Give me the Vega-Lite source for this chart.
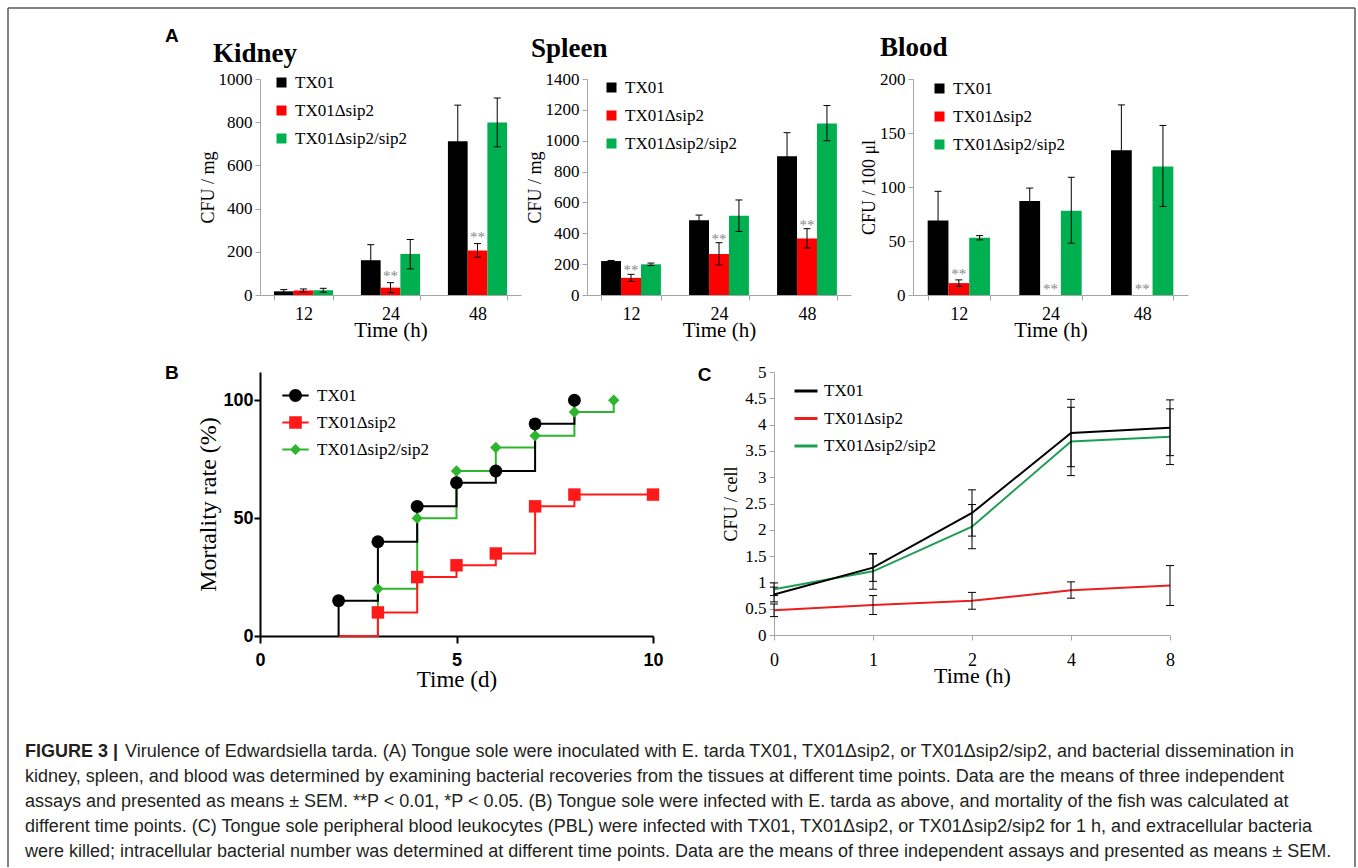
{
  "$schema": "https://vega.github.io/schema/vega-lite/v6.json",
  "padding": {"left": 7, "top": 7, "right": 0, "bottom": 0},
  "background": "white",
  "config": {"view": {"stroke": null}, "axis": {"grid": false, "labelOverlap": false}},
  "spacing": -684,
  "resolve": {"scale": {"x": "independent", "y": "independent", "color": "independent", "shape": "independent", "xOffset": "independent"}, "legend": {"color": "independent", "shape": "independent"}},
  "vconcat": [
    {
      "spacing": 23,
      "resolve": {"scale": {"x": "independent", "y": "independent", "color": "independent", "shape": "independent", "xOffset": "independent"}, "legend": {"color": "independent", "shape": "independent"}},
      "vconcat": [
        {
          "title": {"text": "A", "anchor": "start", "frame": "bounds", "dx": -34, "offset": -27, "baseline": "alphabetic", "font": "Liberation Sans", "fontSize": 19, "fontWeight": "bold", "color": "#000"},
          "spacing": 5,
          "resolve": {"scale": {"x": "independent", "y": "independent", "color": "independent", "xOffset": "independent"}, "legend": {"color": "independent"}},
          "hconcat": [
            {
              "width": 261, "height": 216,
              "title": {"text": "Kidney", "anchor": "start", "frame": "group", "dx": -47, "offset": -19, "baseline": "alphabetic", "font": "Liberation Serif", "fontSize": 27, "fontWeight": "bold", "color": "#000"},
              "data": {"values": [
                {"time": "12", "strain": "TX01", "mean": 17, "lo": 9, "hi": 25, "sig": false},
                {"time": "12", "strain": "TX01Δsip2", "mean": 21, "lo": 14, "hi": 28, "sig": false},
                {"time": "12", "strain": "TX01Δsip2/sip2", "mean": 22, "lo": 13, "hi": 31, "sig": false},
                {"time": "24", "strain": "TX01", "mean": 161, "lo": 89, "hi": 233, "sig": false},
                {"time": "24", "strain": "TX01Δsip2", "mean": 34, "lo": 11, "hi": 57, "sig": true},
                {"time": "24", "strain": "TX01Δsip2/sip2", "mean": 190, "lo": 121, "hi": 257, "sig": false},
                {"time": "48", "strain": "TX01", "mean": 712, "lo": 545, "hi": 879, "sig": false},
                {"time": "48", "strain": "TX01Δsip2", "mean": 206, "lo": 175, "hi": 238, "sig": true},
                {"time": "48", "strain": "TX01Δsip2/sip2", "mean": 799, "lo": 686, "hi": 912, "sig": false}
              ]},
              "encoding": {
                "x": {"field": "time", "type": "nominal", "sort": ["12", "24", "48"], "scale": {"paddingInner": 0.32, "paddingOuter": 0.16},
                  "axis": {"title": "Time (h)", "labelAngle": 0, "tickBand": "extent", "domainColor": "#a6a6a6", "tickColor": "#a6a6a6", "tickSize": 5, "labelFont": "Liberation Serif", "labelFontSize": 18, "labelColor": "#000", "labelPadding": 5, "titleFont": "Liberation Serif", "titleFontSize": 21, "titleFontWeight": "normal", "titleColor": "#000", "titlePadding": -4}},
                "xOffset": {"field": "strain", "type": "nominal", "sort": ["TX01", "TX01Δsip2", "TX01Δsip2/sip2"], "scale": {"paddingInner": 0, "paddingOuter": 0}}
              },
              "layer": [
                {"mark": {"type": "bar"},
                  "encoding": {
                    "y": {"field": "mean", "type": "quantitative", "scale": {"domain": [0, 1000]},
                      "axis": {"title": "CFU / mg", "values": [0, 200, 400, 600, 800, 1000], "tickCount": 30, "labelOverlap": false, "format": "d", "domainColor": "#a6a6a6", "tickColor": "#a6a6a6", "tickSize": 5, "labelFont": "Liberation Serif", "labelFontSize": 17, "labelColor": "#000", "labelPadding": 3, "titleFont": "Liberation Serif", "titleFontSize": 18, "titleFontWeight": "normal", "titleColor": "#000", "titlePadding": 1}},
                    "color": {"field": "strain", "type": "nominal", "scale": {"domain": ["TX01", "TX01Δsip2", "TX01Δsip2/sip2"], "range": ["#000000", "#ff0000", "#00b050"]},
                      "legend": {"title": null, "orient": "none", "legendX": 13, "legendY": -5, "padding": 0, "symbolType": "square", "symbolSize": 100, "symbolStrokeWidth": 0, "labelFont": "Liberation Serif", "labelFontSize": 17, "labelColor": "#000", "labelOffset": 5, "rowPadding": 10, "labelLimit": 300}}
                  }},
                {"transform": [{"filter": "datum.hi > datum.lo"}], "mark": {"type": "rule", "color": "#000", "strokeWidth": 1},
                  "encoding": {"y": {"field": "lo", "type": "quantitative", "scale": {"domain": [0, 1000]}}, "y2": {"field": "hi"}}},
                {"transform": [{"filter": "datum.hi > datum.lo"}], "mark": {"type": "tick", "orient": "horizontal", "size": 7, "thickness": 1, "color": "#000", "opacity": 1},
                  "encoding": {"y": {"field": "lo", "type": "quantitative", "scale": {"domain": [0, 1000]}}}},
                {"transform": [{"filter": "datum.hi > datum.lo"}], "mark": {"type": "tick", "orient": "horizontal", "size": 7, "thickness": 1, "color": "#000", "opacity": 1},
                  "encoding": {"y": {"field": "hi", "type": "quantitative", "scale": {"domain": [0, 1000]}}}},
                {"transform": [{"filter": "datum.sig"}], "mark": {"type": "text", "text": "**", "font": "Liberation Serif", "fontSize": 15, "color": "#888888", "baseline": "alphabetic", "dy": -2},
                  "encoding": {"y": {"field": "hi", "type": "quantitative", "scale": {"domain": [0, 1000]}}}}
              ]
            },
            {
              "spacing": 9,
              "resolve": {"scale": {"x": "independent", "y": "independent", "color": "independent", "xOffset": "independent"}, "legend": {"color": "independent"}},
              "hconcat": [
                {
                  "width": 264, "height": 216,
                  "title": {"text": "Spleen", "anchor": "start", "frame": "group", "dx": -56, "offset": -14, "baseline": "alphabetic", "font": "Liberation Serif", "fontSize": 27, "fontWeight": "bold", "color": "#000"},
                  "data": {"values": [
                    {"time": "12", "strain": "TX01", "mean": 220, "lo": 216, "hi": 224, "sig": false},
                    {"time": "12", "strain": "TX01Δsip2", "mean": 111, "lo": 88, "hi": 134, "sig": true},
                    {"time": "12", "strain": "TX01Δsip2/sip2", "mean": 199, "lo": 191, "hi": 207, "sig": false},
                    {"time": "24", "strain": "TX01", "mean": 484, "lo": 450, "hi": 518, "sig": false},
                    {"time": "24", "strain": "TX01Δsip2", "mean": 266, "lo": 195, "hi": 339, "sig": true},
                    {"time": "24", "strain": "TX01Δsip2/sip2", "mean": 514, "lo": 412, "hi": 616, "sig": false},
                    {"time": "48", "strain": "TX01", "mean": 899, "lo": 747, "hi": 1052, "sig": false},
                    {"time": "48", "strain": "TX01Δsip2", "mean": 367, "lo": 305, "hi": 430, "sig": true},
                    {"time": "48", "strain": "TX01Δsip2/sip2", "mean": 1112, "lo": 1000, "hi": 1228, "sig": false}
                  ]},
                  "encoding": {
                    "x": {"field": "time", "type": "nominal", "sort": ["12", "24", "48"], "scale": {"paddingInner": 0.32, "paddingOuter": 0.16},
                      "axis": {"title": "Time (h)", "labelAngle": 0, "tickBand": "extent", "domainColor": "#a6a6a6", "tickColor": "#a6a6a6", "tickSize": 5, "labelFont": "Liberation Serif", "labelFontSize": 18, "labelColor": "#000", "labelPadding": 5, "titleFont": "Liberation Serif", "titleFontSize": 21, "titleFontWeight": "normal", "titleColor": "#000", "titlePadding": -4}},
                    "xOffset": {"field": "strain", "type": "nominal", "sort": ["TX01", "TX01Δsip2", "TX01Δsip2/sip2"], "scale": {"paddingInner": 0, "paddingOuter": 0}}
                  },
                  "layer": [
                    {"mark": {"type": "bar"},
                      "encoding": {
                        "y": {"field": "mean", "type": "quantitative", "scale": {"domain": [0, 1400]},
                          "axis": {"title": "CFU / mg", "values": [0, 200, 400, 600, 800, 1000, 1200, 1400], "tickCount": 30, "labelOverlap": false, "format": "d", "domainColor": "#a6a6a6", "tickColor": "#a6a6a6", "tickSize": 5, "labelFont": "Liberation Serif", "labelFontSize": 17, "labelColor": "#000", "labelPadding": 3, "titleFont": "Liberation Serif", "titleFontSize": 18, "titleFontWeight": "normal", "titleColor": "#000", "titlePadding": 1}},
                        "color": {"field": "strain", "type": "nominal", "scale": {"domain": ["TX01", "TX01Δsip2", "TX01Δsip2/sip2"], "range": ["#000000", "#ff0000", "#00b050"]},
                          "legend": {"title": null, "orient": "none", "legendX": 16, "legendY": 0, "padding": 0, "symbolType": "square", "symbolSize": 100, "symbolStrokeWidth": 0, "labelFont": "Liberation Serif", "labelFontSize": 17, "labelColor": "#000", "labelOffset": 5, "rowPadding": 10, "labelLimit": 300}}
                      }},
                    {"transform": [{"filter": "datum.hi > datum.lo"}], "mark": {"type": "rule", "color": "#000", "strokeWidth": 1},
                      "encoding": {"y": {"field": "lo", "type": "quantitative", "scale": {"domain": [0, 1400]}}, "y2": {"field": "hi"}}},
                    {"transform": [{"filter": "datum.hi > datum.lo"}], "mark": {"type": "tick", "orient": "horizontal", "size": 7, "thickness": 1, "color": "#000", "opacity": 1},
                      "encoding": {"y": {"field": "lo", "type": "quantitative", "scale": {"domain": [0, 1400]}}}},
                    {"transform": [{"filter": "datum.hi > datum.lo"}], "mark": {"type": "tick", "orient": "horizontal", "size": 7, "thickness": 1, "color": "#000", "opacity": 1},
                      "encoding": {"y": {"field": "hi", "type": "quantitative", "scale": {"domain": [0, 1400]}}}},
                    {"transform": [{"filter": "datum.sig"}], "mark": {"type": "text", "text": "**", "font": "Liberation Serif", "fontSize": 15, "color": "#888888", "baseline": "alphabetic", "dy": 1},
                      "encoding": {"y": {"field": "hi", "type": "quantitative", "scale": {"domain": [0, 1400]}}}}
                  ]
                },
                {
                  "width": 275, "height": 216,
                  "title": {"text": "Blood", "anchor": "start", "frame": "group", "dx": -33, "offset": -13, "baseline": "alphabetic", "font": "Liberation Serif", "fontSize": 27, "fontWeight": "bold", "color": "#000"},
                  "data": {"values": [
                    {"time": "12", "strain": "TX01", "mean": 69, "lo": 42, "hi": 96, "sig": false},
                    {"time": "12", "strain": "TX01Δsip2", "mean": 11, "lo": 8, "hi": 14, "sig": true},
                    {"time": "12", "strain": "TX01Δsip2/sip2", "mean": 53, "lo": 51, "hi": 55, "sig": false},
                    {"time": "24", "strain": "TX01", "mean": 87, "lo": 75, "hi": 99, "sig": false},
                    {"time": "24", "strain": "TX01Δsip2", "mean": 0, "lo": 0, "hi": 0, "sig": true},
                    {"time": "24", "strain": "TX01Δsip2/sip2", "mean": 78, "lo": 48, "hi": 109, "sig": false},
                    {"time": "48", "strain": "TX01", "mean": 134, "lo": 92, "hi": 176, "sig": false},
                    {"time": "48", "strain": "TX01Δsip2", "mean": 0, "lo": 0, "hi": 0, "sig": true},
                    {"time": "48", "strain": "TX01Δsip2/sip2", "mean": 119, "lo": 82, "hi": 157, "sig": false}
                  ]},
                  "encoding": {
                    "x": {"field": "time", "type": "nominal", "sort": ["12", "24", "48"], "scale": {"paddingInner": 0.32, "paddingOuter": 0.16},
                      "axis": {"title": "Time (h)", "labelAngle": 0, "tickBand": "extent", "domainColor": "#a6a6a6", "tickColor": "#a6a6a6", "tickSize": 5, "labelFont": "Liberation Serif", "labelFontSize": 18, "labelColor": "#000", "labelPadding": 5, "titleFont": "Liberation Serif", "titleFontSize": 21, "titleFontWeight": "normal", "titleColor": "#000", "titlePadding": -4}},
                    "xOffset": {"field": "strain", "type": "nominal", "sort": ["TX01", "TX01Δsip2", "TX01Δsip2/sip2"], "scale": {"paddingInner": 0, "paddingOuter": 0}}
                  },
                  "layer": [
                    {"mark": {"type": "bar"},
                      "encoding": {
                        "y": {"field": "mean", "type": "quantitative", "scale": {"domain": [0, 200]},
                          "axis": {"title": "CFU / 100 μl", "values": [0, 50, 100, 150, 200], "tickCount": 30, "labelOverlap": false, "format": "d", "domainColor": "#a6a6a6", "tickColor": "#a6a6a6", "tickSize": 5, "labelFont": "Liberation Serif", "labelFontSize": 17, "labelColor": "#000", "labelPadding": 3, "titleFont": "Liberation Serif", "titleFontSize": 18, "titleFontWeight": "normal", "titleColor": "#000", "titlePadding": 1}},
                        "color": {"field": "strain", "type": "nominal", "scale": {"domain": ["TX01", "TX01Δsip2", "TX01Δsip2/sip2"], "range": ["#000000", "#ff0000", "#00b050"]},
                          "legend": {"title": null, "orient": "none", "legendX": 18, "legendY": 1, "padding": 0, "symbolType": "square", "symbolSize": 100, "symbolStrokeWidth": 0, "labelFont": "Liberation Serif", "labelFontSize": 17, "labelColor": "#000", "labelOffset": 5, "rowPadding": 10, "labelLimit": 300}}
                      }},
                    {"transform": [{"filter": "datum.hi > datum.lo"}], "mark": {"type": "rule", "color": "#000", "strokeWidth": 1},
                      "encoding": {"y": {"field": "lo", "type": "quantitative", "scale": {"domain": [0, 200]}}, "y2": {"field": "hi"}}},
                    {"transform": [{"filter": "datum.hi > datum.lo"}], "mark": {"type": "tick", "orient": "horizontal", "size": 7, "thickness": 1, "color": "#000", "opacity": 1},
                      "encoding": {"y": {"field": "lo", "type": "quantitative", "scale": {"domain": [0, 200]}}}},
                    {"transform": [{"filter": "datum.hi > datum.lo"}], "mark": {"type": "tick", "orient": "horizontal", "size": 7, "thickness": 1, "color": "#000", "opacity": 1},
                      "encoding": {"y": {"field": "hi", "type": "quantitative", "scale": {"domain": [0, 200]}}}},
                    {"transform": [{"filter": "datum.sig"}], "mark": {"type": "text", "text": "**", "font": "Liberation Serif", "fontSize": 15, "color": "#888888", "baseline": "alphabetic", "dy": -1},
                      "encoding": {"y": {"field": "hi", "type": "quantitative", "scale": {"domain": [0, 200]}}}}
                  ]
                }
              ]
            }
          ]
        },
        {
          "spacing": 33,
          "resolve": {"scale": {"x": "independent", "y": "independent", "color": "independent", "shape": "independent"}, "legend": {"color": "independent", "shape": "independent"}},
          "hconcat": [
            {
              "width": 393, "height": 264,
              "title": {"text": "B", "anchor": "start", "frame": "bounds", "dx": -32, "offset": -26, "baseline": "alphabetic", "font": "Liberation Sans", "fontSize": 19, "fontWeight": "bold", "color": "#000"},
              "data": {"values": [
                {"strain": "TX01Δsip2/sip2", "day": 3, "rate": 0},
                {"strain": "TX01Δsip2/sip2", "day": 3, "rate": 20},
                {"strain": "TX01Δsip2/sip2", "day": 4, "rate": 50},
                {"strain": "TX01Δsip2/sip2", "day": 5, "rate": 70},
                {"strain": "TX01Δsip2/sip2", "day": 6, "rate": 80},
                {"strain": "TX01Δsip2/sip2", "day": 7, "rate": 85},
                {"strain": "TX01Δsip2/sip2", "day": 8, "rate": 95},
                {"strain": "TX01Δsip2/sip2", "day": 9, "rate": 100},
                {"strain": "TX01Δsip2", "day": 2, "rate": 0},
                {"strain": "TX01Δsip2", "day": 3, "rate": 10},
                {"strain": "TX01Δsip2", "day": 4, "rate": 25},
                {"strain": "TX01Δsip2", "day": 5, "rate": 30},
                {"strain": "TX01Δsip2", "day": 6, "rate": 35},
                {"strain": "TX01Δsip2", "day": 7, "rate": 55},
                {"strain": "TX01Δsip2", "day": 8, "rate": 60},
                {"strain": "TX01Δsip2", "day": 10, "rate": 60},
                {"strain": "TX01", "day": 2, "rate": 0},
                {"strain": "TX01", "day": 2, "rate": 15},
                {"strain": "TX01", "day": 3, "rate": 40},
                {"strain": "TX01", "day": 4, "rate": 55},
                {"strain": "TX01", "day": 5, "rate": 65},
                {"strain": "TX01", "day": 6, "rate": 70},
                {"strain": "TX01", "day": 7, "rate": 90},
                {"strain": "TX01", "day": 8, "rate": 100}
              ]},
              "encoding": {
                "x": {"field": "day", "type": "quantitative", "scale": {"domain": [0, 10]},
                  "axis": {"title": "Time (d)", "values": [0, 5, 10], "tickCount": 30, "format": "d", "labelFlush": false, "domainColor": "#000", "domainWidth": 2, "tickColor": "#000", "tickWidth": 2, "tickSize": 7, "labelFont": "Liberation Sans", "labelFontWeight": "bold", "labelFontSize": 18, "labelColor": "#000", "labelPadding": 8, "titleFont": "Liberation Serif", "titleFontSize": 23, "titleFontWeight": "normal", "titleColor": "#000", "titlePadding": -1}},
                "y": {"field": "rate", "type": "quantitative", "scale": {"domain": [0, 112]},
                  "axis": {"title": "Mortality rate (%)", "values": [0, 50, 100], "tickCount": 30, "format": "d", "labelFlush": false, "domainColor": "#000", "domainWidth": 2, "tickColor": "#000", "tickWidth": 2, "tickSize": 6, "labelFont": "Liberation Sans", "labelFontWeight": "bold", "labelFontSize": 18, "labelColor": "#000", "labelPadding": 1, "titleFont": "Liberation Serif", "titleFontSize": 24, "titleFontWeight": "normal", "titleColor": "#000", "titlePadding": 2}}
              },
              "layer": [
                {"transform": [{"filter": "datum.strain === 'TX01Δsip2/sip2'"}], "mark": {"type": "line", "interpolate": "step-after", "strokeWidth": 2, "color": "#2db52d"}},
                {"transform": [{"filter": "datum.strain === 'TX01Δsip2'"}], "mark": {"type": "line", "interpolate": "step-after", "strokeWidth": 2, "color": "#ff1a1a"}},
                {"transform": [{"filter": "datum.strain === 'TX01'"}], "mark": {"type": "line", "interpolate": "step-after", "strokeWidth": 2, "color": "#000000"}},
                {"transform": [{"filter": "datum.strain === 'TX01Δsip2/sip2' && datum.rate > 0"}], "mark": {"type": "point", "shape": "diamond", "filled": true, "opacity": 1, "size": 130, "color": "#2db52d"}},
                {"transform": [{"filter": "datum.strain === 'TX01Δsip2' && datum.rate > 0"}], "mark": {"type": "point", "shape": "square", "filled": true, "opacity": 1, "size": 155, "color": "#ff1a1a"}},
                {"transform": [{"filter": "datum.strain === 'TX01' && datum.rate > 0"}], "mark": {"type": "point", "shape": "circle", "filled": true, "opacity": 1, "size": 165, "color": "#000000"}},
                {"transform": [{"filter": "false"}], "mark": {"type": "point", "filled": true, "opacity": 1},
                  "encoding": {
                    "color": {"field": "strain", "type": "nominal", "scale": {"domain": ["TX01", "TX01Δsip2", "TX01Δsip2/sip2"], "range": ["#000000", "#ff1a1a", "#2db52d"]},
                      "legend": {"title": null, "orient": "none", "legendX": 27, "legendY": 15, "padding": 0, "symbolSize": 144, "symbolStrokeWidth": 0, "symbolOpacity": 1, "labelOffset": 13, "labelFont": "Liberation Serif", "labelFontSize": 17, "labelColor": "#000", "rowPadding": 9, "labelLimit": 300}},
                    "shape": {"field": "strain", "type": "nominal", "scale": {"domain": ["TX01", "TX01Δsip2", "TX01Δsip2/sip2"], "range": [
                        "M-2.2,-0.17H2.2V0.17H-2.2Z M-1.08,0A1.08,1.08 0 1,1 1.08,0A1.08,1.08 0 1,1 -1.08,0Z",
                        "M-2.2,-0.17H2.2V0.17H-2.2Z M-1.05,-1.05H1.05V1.05H-1.05Z",
                        "M-2.2,-0.17H2.2V0.17H-2.2Z M0,-0.92L0.92,0L0,0.92L-0.92,0Z"]},
                      "legend": {"title": null, "orient": "none", "legendX": 27, "legendY": 15, "padding": 0, "symbolSize": 144, "symbolStrokeWidth": 0, "symbolOpacity": 1, "labelOffset": 13, "labelFont": "Liberation Serif", "labelFontSize": 17, "labelColor": "#000", "rowPadding": 9, "labelLimit": 300}}
                  }}
              ]
            },
            {
              "width": 396, "height": 263,
              "title": {"text": "C", "anchor": "start", "frame": "bounds", "dx": -25, "offset": -37, "baseline": "alphabetic", "font": "Liberation Sans", "fontSize": 19, "fontWeight": "bold", "color": "#000"},
              "data": {"values": [
                {"time": "0", "strain": "TX01Δsip2", "mean": 0.47, "lo": 0.35, "hi": 0.59},
                {"time": "1", "strain": "TX01Δsip2", "mean": 0.57, "lo": 0.39, "hi": 0.75},
                {"time": "2", "strain": "TX01Δsip2", "mean": 0.65, "lo": 0.49, "hi": 0.81},
                {"time": "4", "strain": "TX01Δsip2", "mean": 0.85, "lo": 0.7, "hi": 1.01},
                {"time": "8", "strain": "TX01Δsip2", "mean": 0.94, "lo": 0.56, "hi": 1.32},
                {"time": "0", "strain": "TX01Δsip2/sip2", "mean": 0.87, "lo": 0.75, "hi": 0.99},
                {"time": "1", "strain": "TX01Δsip2/sip2", "mean": 1.21, "lo": 0.87, "hi": 1.55},
                {"time": "2", "strain": "TX01Δsip2/sip2", "mean": 2.06, "lo": 1.64, "hi": 2.48},
                {"time": "4", "strain": "TX01Δsip2/sip2", "mean": 3.68, "lo": 3.03, "hi": 4.33},
                {"time": "8", "strain": "TX01Δsip2/sip2", "mean": 3.77, "lo": 3.24, "hi": 4.3},
                {"time": "0", "strain": "TX01", "mean": 0.77, "lo": 0.63, "hi": 0.91},
                {"time": "1", "strain": "TX01", "mean": 1.28, "lo": 1.02, "hi": 1.54},
                {"time": "2", "strain": "TX01", "mean": 2.32, "lo": 1.88, "hi": 2.76},
                {"time": "4", "strain": "TX01", "mean": 3.84, "lo": 3.2, "hi": 4.48},
                {"time": "8", "strain": "TX01", "mean": 3.94, "lo": 3.41, "hi": 4.47}
              ]},
              "encoding": {
                "x": {"field": "time", "type": "ordinal", "sort": ["0", "1", "2", "4", "8"], "scale": {"type": "point", "padding": 0},
                  "axis": {"title": "Time (h)", "labelAngle": 0, "domainColor": "#a6a6a6", "tickColor": "#a6a6a6", "tickSize": 5, "labelFont": "Liberation Serif", "labelFontSize": 18, "labelColor": "#000", "labelPadding": 11, "titleFont": "Liberation Serif", "titleFontSize": 22, "titleFontWeight": "normal", "titleColor": "#000", "titlePadding": -4}}
              },
              "layer": [
                {"mark": {"type": "line", "strokeWidth": 2},
                  "encoding": {
                    "y": {"field": "mean", "type": "quantitative", "scale": {"domain": [0, 5]},
                      "axis": {"title": "CFU / cell", "values": [0, 0.5, 1, 1.5, 2, 2.5, 3, 3.5, 4, 4.5, 5], "tickCount": 30, "format": "~g", "labelOverlap": false, "domainColor": "#a6a6a6", "tickColor": "#a6a6a6", "tickSize": 5, "labelFont": "Liberation Serif", "labelFontSize": 17, "labelColor": "#000", "labelPadding": 3, "titleFont": "Liberation Serif", "titleFontSize": 18, "titleFontWeight": "normal", "titleColor": "#000", "titlePadding": 4}},
                    "color": {"field": "strain", "type": "nominal", "scale": {"domain": ["TX01", "TX01Δsip2", "TX01Δsip2/sip2"], "range": ["#000000", "#e8201f", "#1e9e55"]},
                      "legend": {"title": null, "orient": "none", "legendX": 19, "legendY": 6, "padding": 0, "symbolType": "stroke", "symbolSize": 529, "symbolStrokeWidth": 3, "labelOffset": 5, "labelFont": "Liberation Serif", "labelFontSize": 17, "labelColor": "#000", "rowPadding": 6.5, "labelLimit": 300}}
                  }},
                {"mark": {"type": "rule", "color": "#000", "strokeWidth": 1},
                  "encoding": {"y": {"field": "lo", "type": "quantitative", "scale": {"domain": [0, 5]}}, "y2": {"field": "hi"}}},
                {"mark": {"type": "tick", "orient": "horizontal", "size": 8, "thickness": 1, "color": "#000", "opacity": 1},
                  "encoding": {"y": {"field": "lo", "type": "quantitative", "scale": {"domain": [0, 5]}}}},
                {"mark": {"type": "tick", "orient": "horizontal", "size": 8, "thickness": 1, "color": "#000", "opacity": 1},
                  "encoding": {"y": {"field": "hi", "type": "quantitative", "scale": {"domain": [0, 5]}}}}
              ]
            }
          ]
        }
      ]
    },
    {
      "width": 1095, "height": 100,
      "resolve": {"scale": {"y": "independent"}},
      "layer": [
        {"data": {"values": [{}]}, "mark": {"type": "rule", "color": "#5a5a5a", "strokeWidth": 1.5},
          "encoding": {"x": {"datum": -252, "type": "quantitative", "scale": {"domain": [0, 1095]}, "axis": null}, "x2": {"datum": 1095},
            "y": {"datum": -749, "type": "quantitative", "scale": {"domain": [0, 100], "reverse": true}, "axis": null}}},
        {"data": {"values": [{}]}, "mark": {"type": "rule", "color": "#5a5a5a", "strokeWidth": 1.5},
          "encoding": {"x": {"datum": -252, "type": "quantitative", "scale": {"domain": [0, 1095]}, "axis": null},
            "y": {"datum": -749, "type": "quantitative", "scale": {"domain": [0, 100], "reverse": true}, "axis": null}, "y2": {"datum": 110}}},
        {"data": {"values": [{}]}, "mark": {"type": "rule", "color": "#5a5a5a", "strokeWidth": 1.5},
          "encoding": {"x": {"datum": 1095, "type": "quantitative", "scale": {"domain": [0, 1095]}, "axis": null},
            "y": {"datum": -749, "type": "quantitative", "scale": {"domain": [0, 100], "reverse": true}, "axis": null}, "y2": {"datum": 110}}},
        {
          "data": {"values": [
            {"line": 1, "text": "Virulence of Edwardsiella tarda. (A) Tongue sole were inoculated with E. tarda TX01, TX01Δsip2, or TX01Δsip2/sip2, and bacterial dissemination in"},
            {"line": 2, "text": "kidney, spleen, and blood was determined by examining bacterial recoveries from the tissues at different time points. Data are the means of three independent"},
            {"line": 3, "text": "assays and presented as means ± SEM. **P < 0.01, *P < 0.05. (B) Tongue sole were infected with E. tarda as above, and mortality of the fish was calculated at"},
            {"line": 4, "text": "different time points. (C) Tongue sole peripheral blood leukocytes (PBL) were infected with TX01, TX01Δsip2, or TX01Δsip2/sip2 for 1 h, and extracellular bacteria"},
            {"line": 5, "text": "were killed; intracellular bacterial number was determined at different time points. Data are the means of three independent assays and presented as means ± SEM."}
          ]},
          "layer": [
            {"transform": [{"filter": "datum.line === 1"}], "mark": {"type": "text", "align": "left", "baseline": "alphabetic", "font": "Liberation Sans", "fontSize": 18, "color": "#231f20", "limit": 2000},
              "encoding": {"x": {"datum": -135, "type": "quantitative", "scale": {"domain": [0, 1095]}, "axis": null},
                "y": {"field": "line", "type": "quantitative", "scale": {"domain": [1, 5], "reverse": true}, "axis": null}, "text": {"field": "text"}}},
            {"transform": [{"filter": "datum.line > 1"}], "mark": {"type": "text", "align": "left", "baseline": "alphabetic", "font": "Liberation Sans", "fontSize": 18, "color": "#231f20", "limit": 2000},
              "encoding": {"x": {"datum": -235, "type": "quantitative", "scale": {"domain": [0, 1095]}, "axis": null},
                "y": {"field": "line", "type": "quantitative", "scale": {"domain": [1, 5], "reverse": true}, "axis": null}, "text": {"field": "text"}}},
            {"data": {"values": [{"t": "FIGURE 3 |"}]}, "mark": {"type": "text", "align": "left", "baseline": "alphabetic", "font": "Liberation Sans", "fontSize": 18, "fontWeight": "bold", "color": "#231f20"},
              "encoding": {"x": {"datum": -235, "type": "quantitative", "scale": {"domain": [0, 1095]}, "axis": null},
                "y": {"datum": 1, "type": "quantitative", "scale": {"domain": [1, 5], "reverse": true}, "axis": null}, "text": {"field": "t"}}}
          ]
        }
      ]
    }
  ]
}
